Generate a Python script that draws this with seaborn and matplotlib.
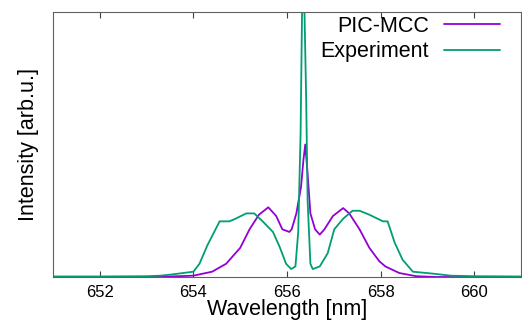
import numpy as np
import pandas as pd
import matplotlib
matplotlib.use("Agg")
import matplotlib.pyplot as plt
import seaborn as sns

# PIC-MCC simulated profile (wavelength in nm, normalized intensity)
pic_wl = [651.0, 653.0, 653.5, 654.0, 654.4, 654.7, 655.0, 655.2, 655.4, 655.6,
          655.77, 655.9, 656.05, 656.1, 656.2, 656.3, 656.35, 656.39, 656.44, 656.5,
          656.6, 656.7, 656.8, 656.98, 657.2, 657.33, 657.55, 657.76, 657.97, 658.1,
          658.4, 658.76, 659.2, 661.0]
pic_int = [0.0, 0.0, 0.002, 0.005, 0.02, 0.05, 0.11, 0.18, 0.235, 0.263,
           0.23, 0.18, 0.17, 0.18, 0.24, 0.34, 0.44, 0.50, 0.39, 0.24,
           0.18, 0.16, 0.18, 0.23, 0.26, 0.24, 0.18, 0.11, 0.06, 0.04,
           0.015, 0.003, 0.0, 0.0]

# Experimental profile
exp_wl = [651.0, 652.0, 653.0, 653.3, 653.56, 654.0, 654.13, 654.3, 654.56, 654.77,
          654.9, 655.13, 655.3, 655.48, 655.7, 655.84, 655.98, 656.09, 656.18, 656.24,
          656.29, 656.33, 656.36, 656.41, 656.44, 656.5, 656.55, 656.7, 656.87, 657.01,
          657.2, 657.4, 657.55, 657.76, 658.05, 658.15, 658.3, 658.47, 658.69, 659.1,
          659.5, 660.0, 661.0]
exp_int = [0.002, 0.002, 0.003, 0.005, 0.01, 0.02, 0.05, 0.12, 0.21, 0.21,
           0.22, 0.24, 0.24, 0.21, 0.17, 0.115, 0.05, 0.03, 0.04, 0.17,
           0.54, 1.12, 1.12, 0.67, 0.29, 0.05, 0.03, 0.04, 0.09, 0.18,
           0.22, 0.25, 0.25, 0.235, 0.21, 0.21, 0.13, 0.065, 0.02, 0.013,
           0.005, 0.003, 0.002]

xticks = [652, 654, 656, 658, 660]

df = pd.concat([
    pd.DataFrame({"wl": pic_wl, "I": pic_int, "src": "PIC-MCC"}),
    pd.DataFrame({"wl": exp_wl, "I": exp_int, "src": "Experiment"}),
])

sns.set_style("ticks")
plt.rcParams["font.family"] = ["Liberation Sans", "DejaVu Sans"]
plt.rcParams["text.color"] = "black"
plt.rcParams["axes.labelcolor"] = "black"
plt.rcParams["xtick.labelcolor"] = "black"

fig = plt.figure(figsize=(5.22, 3.24), dpi=100)
ax = fig.add_axes([53 / 522, 1 - 277 / 324, 468 / 522, 265 / 324])

sns.lineplot(data=df, x="wl", y="I", hue="src", sort=False,
             palette={"PIC-MCC": "#9400d3", "Experiment": "#009e73"},
             linewidth=1.3, ax=ax)

ax.set_xlim(651, 661)
ax.set_ylim(0, 1.0)
ax.set_xticks(xticks)
ax.set_yticks([])
ax.tick_params(axis="x", direction="in", length=4, top=True, labelsize=12,
               color="#404040", pad=6)
for s in ax.spines.values():
    s.set_color("#606060")
    s.set_linewidth(0.8)

ax.set_xlabel("Wavelength [nm]", fontsize=15.5, labelpad=-1)
ax.set_ylabel("Intensity [arb.u.]", fontsize=15.5, labelpad=10)

leg = ax.legend(loc="upper right", bbox_to_anchor=(0.955, 0.985), frameon=False,
                markerfirst=False, fontsize=15.5, handlelength=2.6,
                handletextpad=0.7, borderpad=0, borderaxespad=0,
                labelspacing=0.2)

fig.savefig("out.png", dpi=100)
